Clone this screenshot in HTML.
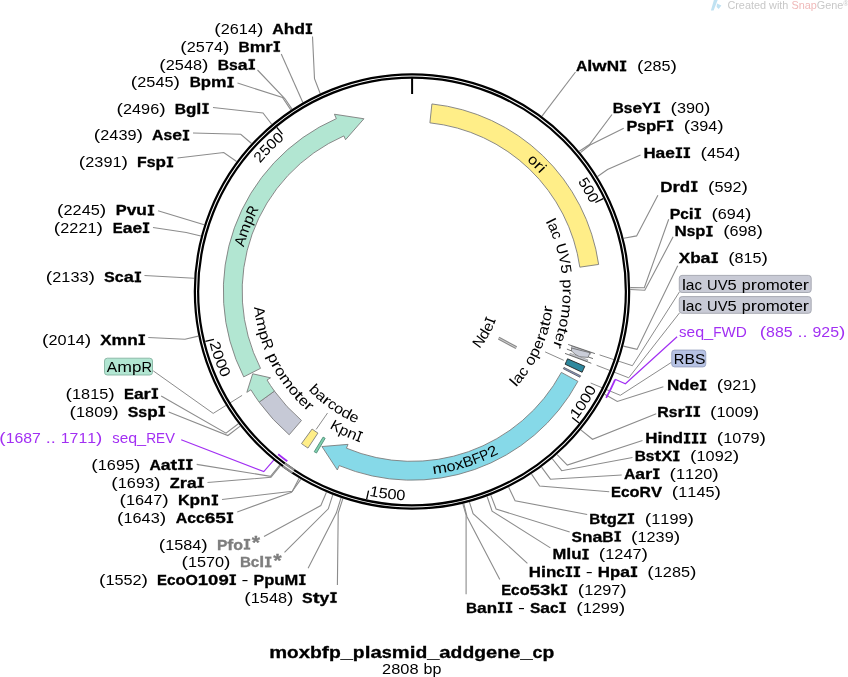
<!DOCTYPE html>
<html><head><meta charset="utf-8"><title>moxbfp_plasmid_addgene_cp</title>
<style>html,body{margin:0;padding:0;background:#fff;}body{width:848px;height:677px;overflow:hidden;}svg{display:block;will-change:transform;font-family:"Liberation Sans", sans-serif;font-size:14.7px;}</style>
</head><body>
<svg width="848" height="677" viewBox="0 0 848 677">
<rect width="848" height="677" fill="#fff"/>
<polyline points="312.5,36.5 314.5,78.75 320.19,93.45" fill="none" stroke="#8c8c8c" stroke-width="1.1"/>
<polyline points="281.25,54 302.85,102.45" fill="none" stroke="#8c8c8c" stroke-width="1.1"/>
<polyline points="257.5,70 285,98.75 292.04,109.11" fill="none" stroke="#8c8c8c" stroke-width="1.1"/>
<polyline points="237.5,83 282.5,97.5 290.82,109.92" fill="none" stroke="#8c8c8c" stroke-width="1.1"/>
<polyline points="213,107.5 263,113 271.68,124.27" fill="none" stroke="#8c8c8c" stroke-width="1.1"/>
<polyline points="193,133 240.75,134.25 251.55,143.48" fill="none" stroke="#8c8c8c" stroke-width="1.1"/>
<polyline points="177.5,158 223.75,152.5 236.61,161.53" fill="none" stroke="#8c8c8c" stroke-width="1.1"/>
<polyline points="158,210.75 204.17,224.69" fill="none" stroke="#8c8c8c" stroke-width="1.1"/>
<polyline points="153,227.5 186.25,232.5 200.89,235.94" fill="none" stroke="#8c8c8c" stroke-width="1.1"/>
<polyline points="144.5,275.5 194.1,278.32" fill="none" stroke="#8c8c8c" stroke-width="1.1"/>
<polyline points="148.25,337.5 185,339.25 198.31,336.12" fill="none" stroke="#8c8c8c" stroke-width="1.1"/>
<polyline points="161.2,395.9 226,433.2 238.37,423.81" fill="none" stroke="#8c8c8c" stroke-width="1.1"/>
<polyline points="168.7,412 227.9,435.5 240.16,426.13" fill="none" stroke="#8c8c8c" stroke-width="1.1"/>
<polyline points="196.7,464.4 270.5,476.3 279.69,465.13" fill="none" stroke="#8c8c8c" stroke-width="1.1"/>
<polyline points="207.5,482.5 271,477.3 280.47,465.72" fill="none" stroke="#8c8c8c" stroke-width="1.1"/>
<polyline points="222,499.5 292.4,491.2 299.07,478.32" fill="none" stroke="#8c8c8c" stroke-width="1.1"/>
<polyline points="237.2,512 291.5,492.3 300.74,479.32" fill="none" stroke="#8c8c8c" stroke-width="1.1"/>
<polyline points="264,536.6 320.8,505.6 326.43,492.33" fill="none" stroke="#8c8c8c" stroke-width="1.1"/>
<polyline points="284.5,552.3 328.3,508.8 332.77,494.91" fill="none" stroke="#8c8c8c" stroke-width="1.1"/>
<polyline points="308.1,568.3 336.3,513.1 341.02,497.94" fill="none" stroke="#8c8c8c" stroke-width="1.1"/>
<polyline points="337.4,585 338.2,513.1 342.87,498.57" fill="none" stroke="#8c8c8c" stroke-width="1.1"/>
<polyline points="575.5,72 541.97,116.11" fill="none" stroke="#8c8c8c" stroke-width="1.1"/>
<polyline points="612,114.5 589.5,144.5 579.23,151.18" fill="none" stroke="#8c8c8c" stroke-width="1.1"/>
<polyline points="623.75,128.25 590,145 580.48,152.68" fill="none" stroke="#8c8c8c" stroke-width="1.1"/>
<polyline points="640.5,155 607.5,169.5 597.54,176.48" fill="none" stroke="#8c8c8c" stroke-width="1.1"/>
<polyline points="657.9,195.3 636.6,235.9 623.72,238.31" fill="none" stroke="#8c8c8c" stroke-width="1.1"/>
<polyline points="668.7,219.2 644.3,287.8 630.27,287.59" fill="none" stroke="#8c8c8c" stroke-width="1.1"/>
<polyline points="673.1,236.8 644.8,290.3 630.29,289.55" fill="none" stroke="#8c8c8c" stroke-width="1.1"/>
<polyline points="677.7,265.7 637,349.4 623.36,346.11" fill="none" stroke="#8c8c8c" stroke-width="1.1"/>
<polyline points="663.4,386.7 617.3,401.5 604.61,394.24" fill="none" stroke="#8c8c8c" stroke-width="1.1"/>
<polyline points="656.25,413.75 592.5,439.25 580.79,429.94" fill="none" stroke="#8c8c8c" stroke-width="1.1"/>
<polyline points="642.5,440.5 567.3,465.1 557.12,454.58" fill="none" stroke="#8c8c8c" stroke-width="1.1"/>
<polyline points="632.5,457.5 561.7,470.7 552.32,458.73" fill="none" stroke="#8c8c8c" stroke-width="1.1"/>
<polyline points="621.75,475 550.4,479.2 541.57,467.19" fill="none" stroke="#8c8c8c" stroke-width="1.1"/>
<polyline points="609.25,491.75 539.6,486 531.55,474.15" fill="none" stroke="#8c8c8c" stroke-width="1.1"/>
<polyline points="587.2,514.5 515.1,500.7 508.66,487.23" fill="none" stroke="#8c8c8c" stroke-width="1.1"/>
<polyline points="569.7,532 496.1,509 490.78,495.09" fill="none" stroke="#8c8c8c" stroke-width="1.1"/>
<polyline points="550.4,547.9 492.1,511.1 487.12,496.47" fill="none" stroke="#8c8c8c" stroke-width="1.1"/>
<polyline points="527.4,563.3 473.1,513.6 469.44,502.11" fill="none" stroke="#8c8c8c" stroke-width="1.1"/>
<polyline points="499.8,579.5 467,516.7 463.77,503.57" fill="none" stroke="#8c8c8c" stroke-width="1.1"/>
<polyline points="466.1,594.2 466.1,515.1 462.82,503.8" fill="none" stroke="#8c8c8c" stroke-width="1.1"/>
<polyline points="153.2,370.8 213.2,413.4 242.1,395.4" fill="none" stroke="#8c8c8c" stroke-width="1.0"/>
<polyline points="679.5,291.8 632.4,365.7 599.6,354.9" fill="none" stroke="#8c8c8c" stroke-width="1.0"/>
<polyline points="679.5,312.9 628.7,377.8 596.6,365.3" fill="none" stroke="#8c8c8c" stroke-width="1.0"/>
<polyline points="671.5,362.3 620.3,395.3 590.7,383" fill="none" stroke="#8c8c8c" stroke-width="1.0"/>
<polyline points="677.1,336.8 625.4,383.7 615.1,379.3" fill="none" stroke="#a22ff3" stroke-width="1.2"/>
<polyline points="181.2,439.8 263.8,471.6 277.2,456.2" fill="none" stroke="#a22ff3" stroke-width="1.2"/>
<circle cx="412" cy="291.5" r="215.5" fill="none" stroke="#000" stroke-width="5.5"/>
<path d="M293.37,471.41 A215.5,215.5 0 0 1 283.82,464.73" fill="none" stroke="#8c8c8c" stroke-width="5.5"/>
<circle cx="412" cy="291.5" r="215.5" fill="none" stroke="#fff" stroke-width="1.05"/>
<path d="M615.1,379.65 A221.4,221.4 0 0 1 606.17,397.88" fill="none" stroke="#a22ff3" stroke-width="1.8"/>
<path d="M287.32,461.35 A210.7,210.7 0 0 1 278.2,454.26" fill="none" stroke="#a22ff3" stroke-width="1.8"/>
<polyline points="412.1,77.5 412.1,94" fill="none" stroke="#000" stroke-width="2.0"/>
<polyline points="603.25,198.64 595.33,202.49" fill="none" stroke="#000" stroke-width="1.3"/>
<polyline points="579.06,422.99 572.15,417.55" fill="none" stroke="#000" stroke-width="1.3"/>
<polyline points="366.68,499.21 368.56,490.62" fill="none" stroke="#000" stroke-width="1.3"/>
<polyline points="205.35,341.45 213.91,339.39" fill="none" stroke="#000" stroke-width="1.3"/>
<polyline points="276.81,127.42 282.4,134.21" fill="none" stroke="#000" stroke-width="1.3"/>
<path d="M431.91,103.95 A188.6,188.6 0 0 1 598.65,264.44 L579.84,267.16 A169.6,169.6 0 0 0 429.9,122.85 Z" fill="#ffee88" stroke="#7d7d7d" stroke-width="0.9" stroke-linejoin="miter"/>
<path d="M289.2,434.77 A188.7,188.7 0 0 1 259.15,402.15 L274.41,391.1 A169.85,169.85 0 0 0 301.47,420.46 Z" fill="#c6c9d6" stroke="#7d7d7d" stroke-width="0.9" stroke-linejoin="miter"/>
<path d="M259.15,402.15 A188.7,188.7 0 0 1 250.93,389.81 L246.84,392.32 L252.7,373.79 L270.57,377.83 L267.02,379.99 A169.85,169.85 0 0 0 274.41,391.1 Z" fill="#b2e6d2" stroke="#7d7d7d" stroke-width="0.9" stroke-linejoin="miter"/>
<path d="M243.72,376.87 A188.7,188.7 0 0 1 336.33,118.64 L334.41,114.24 L363.93,118.76 L345.56,139.71 L343.89,135.9 A169.85,169.85 0 0 0 260.53,368.35 Z" fill="#b2e6d2" stroke="#7d7d7d" stroke-width="0.9" stroke-linejoin="miter"/>
<path d="M577.93,381.37 A188.7,188.7 0 0 1 339.18,465.58 L337.33,470.01 L321.94,446.54 L348.06,444.36 L346.45,448.19 A169.85,169.85 0 0 0 561.35,372.39 Z" fill="#86d9e8" stroke="#7d7d7d" stroke-width="0.9" stroke-linejoin="miter"/>
<path d="M584.81,366.28 A188.3,188.3 0 0 1 582.1,372.27 L565.12,364.2 A169.5,169.5 0 0 0 567.56,358.82 Z" fill="#2e889e" stroke="#222" stroke-width="0.9" stroke-linejoin="miter"/>
<path d="M580.62,375.76 A188.5,188.5 0 0 1 579.88,377.22 L563.31,368.77 A169.9,169.9 0 0 0 563.98,367.44 Z" fill="#8e9bc8" stroke="#444" stroke-width="0.7" stroke-linejoin="miter"/>
<path d="M307.96,448.09 A188,188 0 0 1 301.5,443.6 L312.08,429.03 A170,170 0 0 0 317.92,433.1 Z" fill="#ffee88" stroke="#7d7d7d" stroke-width="0.9" stroke-linejoin="miter"/>
<path d="M316.45,453.06 A187.7,187.7 0 0 1 314.21,451.71 L323.12,437.12 A170.6,170.6 0 0 0 325.16,438.34 Z" fill="#7fcfae" stroke="#4e8f78" stroke-width="0.9" stroke-linejoin="miter"/>
<polygon points="571.73,346.21 590.99,352.78 590.51,354.2 571.25,347.63" fill="#d6d8e1" stroke="#6a6a6a" stroke-width="0.5"/>
<polygon points="571.5,348.1 590,352.7 588.1,357.4 579.4,356.8 574.7,354 571.5,350.8" fill="#cacdd8" stroke="#5a5a5a" stroke-width="0.7"/>
<polygon points="569.65,354.62 587.27,361.25 587.8,359.84 570.18,353.21" fill="#d6d8e1" stroke="#6a6a6a" stroke-width="0.5"/>
<polyline points="568.15,344.46 594.9,353.58" fill="none" stroke="#4a4a4a" stroke-width="0.8"/>
<polyline points="566.9,349.1 571.8,351" fill="none" stroke="#4a4a4a" stroke-width="0.8"/>
<polyline points="588.3,357 593,358.6" fill="none" stroke="#4a4a4a" stroke-width="0.8"/>
<polyline points="565,353.4 591.3,363.3" fill="none" stroke="#4a4a4a" stroke-width="0.8"/>
<polyline points="545.14,351.9 563.72,360.32" fill="none" stroke="#8c8c8c" stroke-width="1.0"/>
<polyline points="327.53,413.03 316.12,429.45" fill="none" stroke="#8c8c8c" stroke-width="1.0"/>
<polyline points="498.64,338.15 516.34,347.68" fill="none" stroke="#8a8a8a" stroke-width="3.0"/>
<polyline points="498.29,337.96 516.78,347.92" fill="none" stroke="#d8d8d8" stroke-width="0.9"/>
<text transform="translate(529.91,163.55) rotate(42.66)" text-anchor="middle" textLength="8.88" lengthAdjust="spacingAndGlyphs">o</text>
<text transform="translate(535.36,168.79) rotate(45.15)" text-anchor="middle" textLength="6.25" lengthAdjust="spacingAndGlyphs">r</text>
<text transform="translate(538.92,172.48) rotate(46.84)" text-anchor="middle" textLength="4.01" lengthAdjust="spacingAndGlyphs">i</text>
<text transform="translate(244.96,242.77) rotate(286.26)" text-anchor="middle" textLength="9.5" lengthAdjust="spacingAndGlyphs">A</text>
<text transform="translate(248.55,231.84) rotate(290.05)" text-anchor="middle" textLength="13.51" lengthAdjust="spacingAndGlyphs">m</text>
<text transform="translate(252.67,221.56) rotate(293.7)" text-anchor="middle" textLength="8.65" lengthAdjust="spacingAndGlyphs">p</text>
<text transform="translate(256.57,213.29) rotate(296.71)" text-anchor="middle" textLength="9.65" lengthAdjust="spacingAndGlyphs">R</text>
<text transform="translate(440.27,473.11) rotate(351.15)" text-anchor="middle" textLength="14.43" lengthAdjust="spacingAndGlyphs">m</text>
<text transform="translate(451.79,470.94) rotate(347.5)" text-anchor="middle" textLength="9" lengthAdjust="spacingAndGlyphs">o</text>
<text transform="translate(460.42,468.81) rotate(344.73)" text-anchor="middle" textLength="8.78" lengthAdjust="spacingAndGlyphs">x</text>
<text transform="translate(469.49,466.08) rotate(341.77)" text-anchor="middle" textLength="10.17" lengthAdjust="spacingAndGlyphs">B</text>
<text transform="translate(478.29,462.93) rotate(338.86)" text-anchor="middle" textLength="8.53" lengthAdjust="spacingAndGlyphs">F</text>
<text transform="translate(486.36,459.58) rotate(336.13)" text-anchor="middle" textLength="8.94" lengthAdjust="spacingAndGlyphs">P</text>
<text transform="translate(494.67,455.66) rotate(333.27)" text-anchor="middle" textLength="9.43" lengthAdjust="spacingAndGlyphs">2</text>
<text transform="translate(546.44,223.18) rotate(63.06)" text-anchor="middle" textLength="4.01" lengthAdjust="spacingAndGlyphs">l</text>
<text transform="translate(549.22,228.96) rotate(65.5)" text-anchor="middle" textLength="8.8" lengthAdjust="spacingAndGlyphs">a</text>
<text transform="translate(552.42,236.52) rotate(68.62)" text-anchor="middle" textLength="7.63" lengthAdjust="spacingAndGlyphs">c</text>
<text transform="translate(557,250.09) rotate(74.06)" text-anchor="middle" textLength="10.72" lengthAdjust="spacingAndGlyphs">U</text>
<text transform="translate(559.51,260.15) rotate(78)" text-anchor="middle" textLength="10.02" lengthAdjust="spacingAndGlyphs">V</text>
<text transform="translate(561.21,269.67) rotate(81.68)" text-anchor="middle" textLength="9.31" lengthAdjust="spacingAndGlyphs">5</text>
<text transform="translate(562.61,283.97) rotate(87.14)" text-anchor="middle" textLength="9.12" lengthAdjust="spacingAndGlyphs">p</text>
<text transform="translate(562.8,291.65) rotate(90.06)" text-anchor="middle" textLength="6.25" lengthAdjust="spacingAndGlyphs">r</text>
<text transform="translate(562.6,299.22) rotate(92.93)" text-anchor="middle" textLength="8.89" lengthAdjust="spacingAndGlyphs">o</text>
<text transform="translate(561.57,310.74) rotate(97.33)" text-anchor="middle" textLength="14.25" lengthAdjust="spacingAndGlyphs">m</text>
<text transform="translate(559.65,322.15) rotate(101.73)" text-anchor="middle" textLength="8.89" lengthAdjust="spacingAndGlyphs">o</text>
<text transform="translate(557.99,329.29) rotate(104.51)" text-anchor="middle" textLength="5.77" lengthAdjust="spacingAndGlyphs">t</text>
<text transform="translate(556,336.26) rotate(107.27)" text-anchor="middle" textLength="8.73" lengthAdjust="spacingAndGlyphs">e</text>
<text transform="translate(553.6,343.35) rotate(110.11)" text-anchor="middle" textLength="6.25" lengthAdjust="spacingAndGlyphs">r</text>
<text transform="translate(517.38,385.94) rotate(311.87)" text-anchor="middle" textLength="4.12" lengthAdjust="spacingAndGlyphs">l</text>
<text transform="translate(521.65,380.94) rotate(309.2)" text-anchor="middle" textLength="9.03" lengthAdjust="spacingAndGlyphs">a</text>
<text transform="translate(526.78,374.25) rotate(305.79)" text-anchor="middle" textLength="7.83" lengthAdjust="spacingAndGlyphs">c</text>
<text transform="translate(534.28,362.71) rotate(300.21)" text-anchor="middle" textLength="9.12" lengthAdjust="spacingAndGlyphs">o</text>
<text transform="translate(538.67,354.57) rotate(296.47)" text-anchor="middle" textLength="9.36" lengthAdjust="spacingAndGlyphs">p</text>
<text transform="translate(542.48,346.25) rotate(292.76)" text-anchor="middle" textLength="8.96" lengthAdjust="spacingAndGlyphs">e</text>
<text transform="translate(545.26,339.08) rotate(289.65)" text-anchor="middle" textLength="6.42" lengthAdjust="spacingAndGlyphs">r</text>
<text transform="translate(547.66,331.74) rotate(286.52)" text-anchor="middle" textLength="9.03" lengthAdjust="spacingAndGlyphs">a</text>
<text transform="translate(549.59,324.51) rotate(283.49)" text-anchor="middle" textLength="5.92" lengthAdjust="spacingAndGlyphs">t</text>
<text transform="translate(551.15,317.16) rotate(280.45)" text-anchor="middle" textLength="9.12" lengthAdjust="spacingAndGlyphs">o</text>
<text transform="translate(552.35,309.48) rotate(277.3)" text-anchor="middle" textLength="6.42" lengthAdjust="spacingAndGlyphs">r</text>
<text transform="translate(482.66,344.79) rotate(307.02)" text-anchor="middle" textLength="10.74" lengthAdjust="spacingAndGlyphs">N</text>
<text transform="translate(488.14,336.62) rotate(300.65)" text-anchor="middle" textLength="8.95" lengthAdjust="spacingAndGlyphs">d</text>
<text transform="translate(492.22,328.88) rotate(294.98)" text-anchor="middle" textLength="8.56" lengthAdjust="spacingAndGlyphs">e</text>
<path transform="translate(495.03,322.14) rotate(290.26)" d="M-2.25,0H2.25V-1.15H0.68V-9.3H2.25V-10.45H-2.25V-9.3H-0.68V-1.15H-2.25Z"/>
<text transform="translate(254.78,312.39) rotate(442.43)" text-anchor="middle" textLength="10.34" lengthAdjust="spacingAndGlyphs">A</text>
<text transform="translate(256.92,324.73) rotate(437.91)" text-anchor="middle" textLength="14.71" lengthAdjust="spacingAndGlyphs">m</text>
<text transform="translate(259.89,336.42) rotate(433.55)" text-anchor="middle" textLength="9.42" lengthAdjust="spacingAndGlyphs">p</text>
<text transform="translate(263.02,345.88) rotate(429.95)" text-anchor="middle" textLength="10.51" lengthAdjust="spacingAndGlyphs">R</text>
<text transform="translate(268.94,359.97) rotate(424.42)" text-anchor="middle" textLength="9.42" lengthAdjust="spacingAndGlyphs">p</text>
<text transform="translate(272.55,367.04) rotate(421.55)" text-anchor="middle" textLength="6.46" lengthAdjust="spacingAndGlyphs">r</text>
<text transform="translate(276.44,373.82) rotate(418.73)" text-anchor="middle" textLength="9.18" lengthAdjust="spacingAndGlyphs">o</text>
<text transform="translate(283.02,383.79) rotate(414.41)" text-anchor="middle" textLength="14.71" lengthAdjust="spacingAndGlyphs">m</text>
<text transform="translate(290.33,393.24) rotate(410.1)" text-anchor="middle" textLength="9.18" lengthAdjust="spacingAndGlyphs">o</text>
<text transform="translate(295.32,398.92) rotate(407.36)" text-anchor="middle" textLength="5.96" lengthAdjust="spacingAndGlyphs">t</text>
<text transform="translate(300.52,404.31) rotate(404.66)" text-anchor="middle" textLength="9.01" lengthAdjust="spacingAndGlyphs">e</text>
<text transform="translate(306.15,409.61) rotate(401.87)" text-anchor="middle" textLength="6.46" lengthAdjust="spacingAndGlyphs">r</text>
<text transform="translate(311.48,393.21) rotate(404.66)" text-anchor="middle" textLength="9.18" lengthAdjust="spacingAndGlyphs">b</text>
<text transform="translate(318.09,399.34) rotate(401.05)" text-anchor="middle" textLength="8.85" lengthAdjust="spacingAndGlyphs">a</text>
<text transform="translate(323.93,404.16) rotate(398.01)" text-anchor="middle" textLength="6.29" lengthAdjust="spacingAndGlyphs">r</text>
<text transform="translate(329.54,408.33) rotate(395.22)" text-anchor="middle" textLength="7.68" lengthAdjust="spacingAndGlyphs">c</text>
<text transform="translate(336.46,412.92) rotate(391.89)" text-anchor="middle" textLength="8.94" lengthAdjust="spacingAndGlyphs">o</text>
<text transform="translate(344.3,417.46) rotate(388.26)" text-anchor="middle" textLength="9.18" lengthAdjust="spacingAndGlyphs">d</text>
<text transform="translate(352.34,421.46) rotate(384.66)" text-anchor="middle" textLength="8.78" lengthAdjust="spacingAndGlyphs">e</text>
<text transform="translate(333.7,430.46) rotate(389.4)" text-anchor="middle" textLength="10.01" lengthAdjust="spacingAndGlyphs">K</text>
<text transform="translate(342.11,434.87) rotate(385.99)" text-anchor="middle" textLength="9" lengthAdjust="spacingAndGlyphs">p</text>
<text transform="translate(350.38,438.62) rotate(382.73)" text-anchor="middle" textLength="9.15" lengthAdjust="spacingAndGlyphs">n</text>
<path transform="translate(357.47,441.39) rotate(379.99)" d="M-2.25,0H2.25V-1.15H0.68V-9.3H2.25V-10.45H-2.25V-9.3H-0.68V-1.15H-2.25Z"/>
<text transform="translate(579.91,185.08) rotate(57.63)" text-anchor="middle" textLength="8.56" lengthAdjust="spacingAndGlyphs">5</text>
<text transform="translate(584.34,192.4) rotate(60.1)" text-anchor="middle" textLength="8.56" lengthAdjust="spacingAndGlyphs">0</text>
<text transform="translate(588.44,199.91) rotate(62.57)" text-anchor="middle" textLength="8.56" lengthAdjust="spacingAndGlyphs">0</text>
<text transform="translate(262.79,160.13) rotate(311.36)" text-anchor="middle" textLength="8.76" lengthAdjust="spacingAndGlyphs">2</text>
<text transform="translate(268.72,153.68) rotate(313.89)" text-anchor="middle" textLength="8.76" lengthAdjust="spacingAndGlyphs">5</text>
<text transform="translate(274.94,147.5) rotate(316.41)" text-anchor="middle" textLength="8.76" lengthAdjust="spacingAndGlyphs">0</text>
<text transform="translate(281.41,141.61) rotate(318.94)" text-anchor="middle" textLength="8.76" lengthAdjust="spacingAndGlyphs">0</text>
<text transform="translate(579.74,415.85) rotate(306.55)" text-anchor="middle" textLength="9.11" lengthAdjust="spacingAndGlyphs">1</text>
<text transform="translate(585,408.41) rotate(304.05)" text-anchor="middle" textLength="9.11" lengthAdjust="spacingAndGlyphs">0</text>
<text transform="translate(589.94,400.75) rotate(301.55)" text-anchor="middle" textLength="9.11" lengthAdjust="spacingAndGlyphs">0</text>
<text transform="translate(594.53,392.89) rotate(299.05)" text-anchor="middle" textLength="9.11" lengthAdjust="spacingAndGlyphs">0</text>
<text transform="translate(373.41,496.7) rotate(370.65)" text-anchor="middle" textLength="9.11" lengthAdjust="spacingAndGlyphs">1</text>
<text transform="translate(382.4,498.19) rotate(368.15)" text-anchor="middle" textLength="9.11" lengthAdjust="spacingAndGlyphs">5</text>
<text transform="translate(391.44,499.29) rotate(365.65)" text-anchor="middle" textLength="9.11" lengthAdjust="spacingAndGlyphs">0</text>
<text transform="translate(400.53,499.98) rotate(363.15)" text-anchor="middle" textLength="9.11" lengthAdjust="spacingAndGlyphs">0</text>
<text transform="translate(210.87,347.56) rotate(434.42)" text-anchor="middle" textLength="9.29" lengthAdjust="spacingAndGlyphs">2</text>
<text transform="translate(213.56,356.46) rotate(431.88)" text-anchor="middle" textLength="9.29" lengthAdjust="spacingAndGlyphs">0</text>
<text transform="translate(216.65,365.22) rotate(429.32)" text-anchor="middle" textLength="9.29" lengthAdjust="spacingAndGlyphs">0</text>
<text transform="translate(220.12,373.84) rotate(426.77)" text-anchor="middle" textLength="9.29" lengthAdjust="spacingAndGlyphs">0</text>
<g><text x="214.3" y="34" textLength="6.46" lengthAdjust="spacingAndGlyphs">(</text><text x="220.76" y="34" textLength="9.05" lengthAdjust="spacingAndGlyphs">2</text><text x="229.8" y="34" textLength="9.05" lengthAdjust="spacingAndGlyphs">6</text><text x="238.85" y="34" textLength="9.05" lengthAdjust="spacingAndGlyphs">1</text><text x="247.9" y="34" textLength="9.05" lengthAdjust="spacingAndGlyphs">4</text><text x="256.94" y="34" textLength="6.46" lengthAdjust="spacingAndGlyphs">)</text></g>
<g font-weight="bold" stroke="#000" stroke-width="0.3"><text x="272.2" y="34" textLength="11.58" lengthAdjust="spacingAndGlyphs">A</text><text x="283.78" y="34" textLength="10.63" lengthAdjust="spacingAndGlyphs">h</text><text x="294.41" y="34" textLength="10.44" lengthAdjust="spacingAndGlyphs">d</text><path transform="translate(0,34)" d="M305.82,0H312.02V-1.65H310.17V-8.8H312.02V-10.45H305.82V-8.8H307.67V-1.65H305.82Z"/></g>
<g><text x="180.35" y="51.8" textLength="6.46" lengthAdjust="spacingAndGlyphs">(</text><text x="186.81" y="51.8" textLength="9.05" lengthAdjust="spacingAndGlyphs">2</text><text x="195.85" y="51.8" textLength="9.05" lengthAdjust="spacingAndGlyphs">5</text><text x="204.9" y="51.8" textLength="9.05" lengthAdjust="spacingAndGlyphs">7</text><text x="213.95" y="51.8" textLength="9.05" lengthAdjust="spacingAndGlyphs">4</text><text x="222.99" y="51.8" textLength="6.46" lengthAdjust="spacingAndGlyphs">)</text></g>
<g font-weight="bold" stroke="#000" stroke-width="0.3"><text x="238.5" y="51.8" textLength="11.26" lengthAdjust="spacingAndGlyphs">B</text><text x="249.76" y="51.8" textLength="15.63" lengthAdjust="spacingAndGlyphs">m</text><text x="265.39" y="51.8" textLength="7.34" lengthAdjust="spacingAndGlyphs">r</text><path transform="translate(0,51.8)" d="M273.67,0H279.87V-1.65H278.02V-8.8H279.87V-10.45H273.67V-8.8H275.52V-1.65H273.67Z"/></g>
<g><text x="159.35" y="69.6" textLength="6.46" lengthAdjust="spacingAndGlyphs">(</text><text x="165.81" y="69.6" textLength="9.05" lengthAdjust="spacingAndGlyphs">2</text><text x="174.85" y="69.6" textLength="9.05" lengthAdjust="spacingAndGlyphs">5</text><text x="183.9" y="69.6" textLength="9.05" lengthAdjust="spacingAndGlyphs">4</text><text x="192.95" y="69.6" textLength="9.05" lengthAdjust="spacingAndGlyphs">8</text><text x="201.99" y="69.6" textLength="6.46" lengthAdjust="spacingAndGlyphs">)</text></g>
<g font-weight="bold" stroke="#000" stroke-width="0.3"><text x="217.75" y="69.6" textLength="11.29" lengthAdjust="spacingAndGlyphs">B</text><text x="229.04" y="69.6" textLength="8.78" lengthAdjust="spacingAndGlyphs">s</text><text x="237.82" y="69.6" textLength="9.89" lengthAdjust="spacingAndGlyphs">a</text><path transform="translate(0,69.6)" d="M248.66,0H254.86V-1.65H253.01V-8.8H254.86V-10.45H248.66V-8.8H250.51V-1.65H248.66Z"/></g>
<g><text x="130.85" y="87.4" textLength="6.46" lengthAdjust="spacingAndGlyphs">(</text><text x="137.31" y="87.4" textLength="9.05" lengthAdjust="spacingAndGlyphs">2</text><text x="146.35" y="87.4" textLength="9.05" lengthAdjust="spacingAndGlyphs">5</text><text x="155.4" y="87.4" textLength="9.05" lengthAdjust="spacingAndGlyphs">4</text><text x="164.45" y="87.4" textLength="9.05" lengthAdjust="spacingAndGlyphs">5</text><text x="173.49" y="87.4" textLength="6.46" lengthAdjust="spacingAndGlyphs">)</text></g>
<g font-weight="bold" stroke="#000" stroke-width="0.3"><text x="189.75" y="87.4" textLength="11.14" lengthAdjust="spacingAndGlyphs">B</text><text x="200.89" y="87.4" textLength="10.22" lengthAdjust="spacingAndGlyphs">p</text><text x="211.1" y="87.4" textLength="15.46" lengthAdjust="spacingAndGlyphs">m</text><path transform="translate(0,87.4)" d="M227.46,0H233.66V-1.65H231.81V-8.8H233.66V-10.45H227.46V-8.8H229.31V-1.65H227.46Z"/></g>
<g><text x="116.55" y="113.65" textLength="6.46" lengthAdjust="spacingAndGlyphs">(</text><text x="123.01" y="113.65" textLength="9.05" lengthAdjust="spacingAndGlyphs">2</text><text x="132.05" y="113.65" textLength="9.05" lengthAdjust="spacingAndGlyphs">4</text><text x="141.1" y="113.65" textLength="9.05" lengthAdjust="spacingAndGlyphs">9</text><text x="150.15" y="113.65" textLength="9.05" lengthAdjust="spacingAndGlyphs">6</text><text x="159.19" y="113.65" textLength="6.46" lengthAdjust="spacingAndGlyphs">)</text></g>
<g font-weight="bold" stroke="#000" stroke-width="0.3"><text x="174.75" y="113.65" textLength="11.29" lengthAdjust="spacingAndGlyphs">B</text><text x="186.04" y="113.65" textLength="10.36" lengthAdjust="spacingAndGlyphs">g</text><text x="196.39" y="113.65" textLength="5.07" lengthAdjust="spacingAndGlyphs">l</text><path transform="translate(0,113.65)" d="M202.41,0H208.61V-1.65H206.76V-8.8H208.61V-10.45H202.41V-8.8H204.26V-1.65H202.41Z"/></g>
<g><text x="93.85" y="140.4" textLength="6.46" lengthAdjust="spacingAndGlyphs">(</text><text x="100.31" y="140.4" textLength="9.05" lengthAdjust="spacingAndGlyphs">2</text><text x="109.35" y="140.4" textLength="9.05" lengthAdjust="spacingAndGlyphs">4</text><text x="118.4" y="140.4" textLength="9.05" lengthAdjust="spacingAndGlyphs">3</text><text x="127.45" y="140.4" textLength="9.05" lengthAdjust="spacingAndGlyphs">9</text><text x="136.49" y="140.4" textLength="6.46" lengthAdjust="spacingAndGlyphs">)</text></g>
<g font-weight="bold" stroke="#000" stroke-width="0.3"><text x="152" y="140.4" textLength="11.45" lengthAdjust="spacingAndGlyphs">A</text><text x="163.45" y="140.4" textLength="8.75" lengthAdjust="spacingAndGlyphs">s</text><text x="172.2" y="140.4" textLength="9.8" lengthAdjust="spacingAndGlyphs">e</text><path transform="translate(0,140.4)" d="M182.92,0H189.12V-1.65H187.27V-8.8H189.12V-10.45H182.92V-8.8H184.77V-1.65H182.92Z"/></g>
<g><text x="78.85" y="167.15" textLength="6.46" lengthAdjust="spacingAndGlyphs">(</text><text x="85.31" y="167.15" textLength="9.05" lengthAdjust="spacingAndGlyphs">2</text><text x="94.35" y="167.15" textLength="9.05" lengthAdjust="spacingAndGlyphs">3</text><text x="103.4" y="167.15" textLength="9.05" lengthAdjust="spacingAndGlyphs">9</text><text x="112.45" y="167.15" textLength="9.05" lengthAdjust="spacingAndGlyphs">1</text><text x="121.49" y="167.15" textLength="6.46" lengthAdjust="spacingAndGlyphs">)</text></g>
<g font-weight="bold" stroke="#000" stroke-width="0.3"><text x="137" y="167.15" textLength="9.68" lengthAdjust="spacingAndGlyphs">F</text><text x="146.68" y="167.15" textLength="8.83" lengthAdjust="spacingAndGlyphs">s</text><text x="155.51" y="167.15" textLength="10.41" lengthAdjust="spacingAndGlyphs">p</text><path transform="translate(0,167.15)" d="M166.88,0H173.08V-1.65H171.23V-8.8H173.08V-10.45H166.88V-8.8H168.73V-1.65H166.88Z"/></g>
<g><text x="57.1" y="215.4" textLength="6.46" lengthAdjust="spacingAndGlyphs">(</text><text x="63.56" y="215.4" textLength="9.05" lengthAdjust="spacingAndGlyphs">2</text><text x="72.6" y="215.4" textLength="9.05" lengthAdjust="spacingAndGlyphs">2</text><text x="81.65" y="215.4" textLength="9.05" lengthAdjust="spacingAndGlyphs">4</text><text x="90.7" y="215.4" textLength="9.05" lengthAdjust="spacingAndGlyphs">5</text><text x="99.74" y="215.4" textLength="6.46" lengthAdjust="spacingAndGlyphs">)</text></g>
<g font-weight="bold" stroke="#000" stroke-width="0.3"><text x="115.75" y="215.4" textLength="10.91" lengthAdjust="spacingAndGlyphs">P</text><text x="126.66" y="215.4" textLength="9.67" lengthAdjust="spacingAndGlyphs">v</text><text x="136.33" y="215.4" textLength="10.6" lengthAdjust="spacingAndGlyphs">u</text><path transform="translate(0,215.4)" d="M147.89,0H154.09V-1.65H152.24V-8.8H154.09V-10.45H147.89V-8.8H149.74V-1.65H147.89Z"/></g>
<g><text x="53.85" y="233" textLength="6.46" lengthAdjust="spacingAndGlyphs">(</text><text x="60.31" y="233" textLength="9.05" lengthAdjust="spacingAndGlyphs">2</text><text x="69.35" y="233" textLength="9.05" lengthAdjust="spacingAndGlyphs">2</text><text x="78.4" y="233" textLength="9.05" lengthAdjust="spacingAndGlyphs">2</text><text x="87.45" y="233" textLength="9.05" lengthAdjust="spacingAndGlyphs">1</text><text x="96.49" y="233" textLength="6.46" lengthAdjust="spacingAndGlyphs">)</text></g>
<g font-weight="bold" stroke="#000" stroke-width="0.3"><text x="112.75" y="233" textLength="9.95" lengthAdjust="spacingAndGlyphs">E</text><text x="122.7" y="233" textLength="9.73" lengthAdjust="spacingAndGlyphs">a</text><text x="132.43" y="233" textLength="9.67" lengthAdjust="spacingAndGlyphs">e</text><path transform="translate(0,233)" d="M142.97,0H149.17V-1.65H147.32V-8.8H149.17V-10.45H142.97V-8.8H144.82V-1.65H142.97Z"/></g>
<g><text x="45.85" y="282.15" textLength="6.46" lengthAdjust="spacingAndGlyphs">(</text><text x="52.31" y="282.15" textLength="9.05" lengthAdjust="spacingAndGlyphs">2</text><text x="61.35" y="282.15" textLength="9.05" lengthAdjust="spacingAndGlyphs">1</text><text x="70.4" y="282.15" textLength="9.05" lengthAdjust="spacingAndGlyphs">3</text><text x="79.45" y="282.15" textLength="9.05" lengthAdjust="spacingAndGlyphs">3</text><text x="88.49" y="282.15" textLength="6.46" lengthAdjust="spacingAndGlyphs">)</text></g>
<g font-weight="bold" stroke="#000" stroke-width="0.3"><text x="104" y="282.15" textLength="10.75" lengthAdjust="spacingAndGlyphs">S</text><text x="114.75" y="282.15" textLength="8.91" lengthAdjust="spacingAndGlyphs">c</text><text x="123.66" y="282.15" textLength="10.12" lengthAdjust="spacingAndGlyphs">a</text><path transform="translate(0,282.15)" d="M134.81,0H141.01V-1.65H139.16V-8.8H141.01V-10.45H134.81V-8.8H136.66V-1.65H134.81Z"/></g>
<g><text x="42.1" y="344.9" textLength="6.46" lengthAdjust="spacingAndGlyphs">(</text><text x="48.56" y="344.9" textLength="9.05" lengthAdjust="spacingAndGlyphs">2</text><text x="57.6" y="344.9" textLength="9.05" lengthAdjust="spacingAndGlyphs">0</text><text x="66.65" y="344.9" textLength="9.05" lengthAdjust="spacingAndGlyphs">1</text><text x="75.7" y="344.9" textLength="9.05" lengthAdjust="spacingAndGlyphs">4</text><text x="84.74" y="344.9" textLength="6.46" lengthAdjust="spacingAndGlyphs">)</text></g>
<g font-weight="bold" stroke="#000" stroke-width="0.3"><text x="100.25" y="344.9" textLength="11.3" lengthAdjust="spacingAndGlyphs">X</text><text x="111.55" y="344.9" textLength="15.65" lengthAdjust="spacingAndGlyphs">m</text><text x="127.2" y="344.9" textLength="10.53" lengthAdjust="spacingAndGlyphs">n</text><path transform="translate(0,344.9)" d="M138.66,0H144.86V-1.65H143.01V-8.8H144.86V-10.45H138.66V-8.8H140.51V-1.65H138.66Z"/></g>
<g><text x="65.6" y="398.65" textLength="6.46" lengthAdjust="spacingAndGlyphs">(</text><text x="72.06" y="398.65" textLength="9.05" lengthAdjust="spacingAndGlyphs">1</text><text x="81.1" y="398.65" textLength="9.05" lengthAdjust="spacingAndGlyphs">8</text><text x="90.15" y="398.65" textLength="9.05" lengthAdjust="spacingAndGlyphs">1</text><text x="99.2" y="398.65" textLength="9.05" lengthAdjust="spacingAndGlyphs">5</text><text x="108.24" y="398.65" textLength="6.46" lengthAdjust="spacingAndGlyphs">)</text></g>
<g font-weight="bold" stroke="#000" stroke-width="0.3"><text x="124" y="398.65" textLength="9.93" lengthAdjust="spacingAndGlyphs">E</text><text x="133.93" y="398.65" textLength="9.71" lengthAdjust="spacingAndGlyphs">a</text><text x="143.64" y="398.65" textLength="7.22" lengthAdjust="spacingAndGlyphs">r</text><path transform="translate(0,398.65)" d="M151.73,0H157.93V-1.65H156.08V-8.8H157.93V-10.45H151.73V-8.8H153.58V-1.65H151.73Z"/></g>
<g><text x="69.6" y="416.5" textLength="6.46" lengthAdjust="spacingAndGlyphs">(</text><text x="76.06" y="416.5" textLength="9.05" lengthAdjust="spacingAndGlyphs">1</text><text x="85.1" y="416.5" textLength="9.05" lengthAdjust="spacingAndGlyphs">8</text><text x="94.15" y="416.5" textLength="9.05" lengthAdjust="spacingAndGlyphs">0</text><text x="103.2" y="416.5" textLength="9.05" lengthAdjust="spacingAndGlyphs">9</text><text x="112.24" y="416.5" textLength="6.46" lengthAdjust="spacingAndGlyphs">)</text></g>
<g font-weight="bold" stroke="#000" stroke-width="0.3"><text x="127.75" y="416.5" textLength="10.6" lengthAdjust="spacingAndGlyphs">S</text><text x="138.35" y="416.5" textLength="8.86" lengthAdjust="spacingAndGlyphs">s</text><text x="147.21" y="416.5" textLength="10.44" lengthAdjust="spacingAndGlyphs">p</text><path transform="translate(0,416.5)" d="M158.62,0H164.82V-1.65H162.97V-8.8H164.82V-10.45H158.62V-8.8H160.47V-1.65H158.62Z"/></g>
<g><text x="91.35" y="469.7" textLength="6.46" lengthAdjust="spacingAndGlyphs">(</text><text x="97.81" y="469.7" textLength="9.05" lengthAdjust="spacingAndGlyphs">1</text><text x="106.85" y="469.7" textLength="9.05" lengthAdjust="spacingAndGlyphs">6</text><text x="115.9" y="469.7" textLength="9.05" lengthAdjust="spacingAndGlyphs">9</text><text x="124.95" y="469.7" textLength="9.05" lengthAdjust="spacingAndGlyphs">5</text><text x="133.99" y="469.7" textLength="6.46" lengthAdjust="spacingAndGlyphs">)</text></g>
<g font-weight="bold" stroke="#000" stroke-width="0.3"><text x="149.5" y="469.7" textLength="11.36" lengthAdjust="spacingAndGlyphs">A</text><text x="160.86" y="469.7" textLength="9.78" lengthAdjust="spacingAndGlyphs">a</text><text x="170.64" y="469.7" textLength="6.68" lengthAdjust="spacingAndGlyphs">t</text><path transform="translate(0,469.7)" d="M178.21,0H184.41V-1.65H182.56V-8.8H184.41V-10.45H178.21V-8.8H180.06V-1.65H178.21Z"/><path transform="translate(0,469.7)" d="M186.2,0H192.4V-1.65H190.55V-8.8H192.4V-10.45H186.2V-8.8H188.05V-1.65H186.2Z"/></g>
<g><text x="111.35" y="487.6" textLength="6.46" lengthAdjust="spacingAndGlyphs">(</text><text x="117.81" y="487.6" textLength="9.05" lengthAdjust="spacingAndGlyphs">1</text><text x="126.85" y="487.6" textLength="9.05" lengthAdjust="spacingAndGlyphs">6</text><text x="135.9" y="487.6" textLength="9.05" lengthAdjust="spacingAndGlyphs">9</text><text x="144.95" y="487.6" textLength="9.05" lengthAdjust="spacingAndGlyphs">3</text><text x="153.99" y="487.6" textLength="6.46" lengthAdjust="spacingAndGlyphs">)</text></g>
<g font-weight="bold" stroke="#000" stroke-width="0.3"><text x="169.75" y="487.6" textLength="10.02" lengthAdjust="spacingAndGlyphs">Z</text><text x="179.77" y="487.6" textLength="7.2" lengthAdjust="spacingAndGlyphs">r</text><text x="186.97" y="487.6" textLength="9.67" lengthAdjust="spacingAndGlyphs">a</text><path transform="translate(0,487.6)" d="M197.5,0H203.7V-1.65H201.85V-8.8H203.7V-10.45H197.5V-8.8H199.35V-1.65H197.5Z"/></g>
<g><text x="119.55" y="505.3" textLength="6.46" lengthAdjust="spacingAndGlyphs">(</text><text x="126.01" y="505.3" textLength="9.05" lengthAdjust="spacingAndGlyphs">1</text><text x="135.05" y="505.3" textLength="9.05" lengthAdjust="spacingAndGlyphs">6</text><text x="144.1" y="505.3" textLength="9.05" lengthAdjust="spacingAndGlyphs">4</text><text x="153.15" y="505.3" textLength="9.05" lengthAdjust="spacingAndGlyphs">7</text><text x="162.19" y="505.3" textLength="6.46" lengthAdjust="spacingAndGlyphs">)</text></g>
<g font-weight="bold" stroke="#000" stroke-width="0.3"><text x="177.9" y="505.3" textLength="11.62" lengthAdjust="spacingAndGlyphs">K</text><text x="189.52" y="505.3" textLength="10.53" lengthAdjust="spacingAndGlyphs">p</text><text x="200.05" y="505.3" textLength="10.73" lengthAdjust="spacingAndGlyphs">n</text><path transform="translate(0,505.3)" d="M211.79,0H217.99V-1.65H216.14V-8.8H217.99V-10.45H211.79V-8.8H213.64V-1.65H211.79Z"/></g>
<g><text x="117.05" y="523" textLength="6.46" lengthAdjust="spacingAndGlyphs">(</text><text x="123.51" y="523" textLength="9.05" lengthAdjust="spacingAndGlyphs">1</text><text x="132.55" y="523" textLength="9.05" lengthAdjust="spacingAndGlyphs">6</text><text x="141.6" y="523" textLength="9.05" lengthAdjust="spacingAndGlyphs">4</text><text x="150.65" y="523" textLength="9.05" lengthAdjust="spacingAndGlyphs">3</text><text x="159.69" y="523" textLength="6.46" lengthAdjust="spacingAndGlyphs">)</text></g>
<g font-weight="bold" stroke="#000" stroke-width="0.3"><text x="175.8" y="523" textLength="11.52" lengthAdjust="spacingAndGlyphs">A</text><text x="187.32" y="523" textLength="8.73" lengthAdjust="spacingAndGlyphs">c</text><text x="196.05" y="523" textLength="8.73" lengthAdjust="spacingAndGlyphs">c</text><text x="204.78" y="523" textLength="10.56" lengthAdjust="spacingAndGlyphs">6</text><text x="215.34" y="523" textLength="10.56" lengthAdjust="spacingAndGlyphs">5</text><path transform="translate(0,523)" d="M226.85,0H233.05V-1.65H231.2V-8.8H233.05V-10.45H226.85V-8.8H228.7V-1.65H226.85Z"/></g>
<g><text x="158.75" y="549.5" textLength="6.46" lengthAdjust="spacingAndGlyphs">(</text><text x="165.21" y="549.5" textLength="9.05" lengthAdjust="spacingAndGlyphs">1</text><text x="174.25" y="549.5" textLength="9.05" lengthAdjust="spacingAndGlyphs">5</text><text x="183.3" y="549.5" textLength="9.05" lengthAdjust="spacingAndGlyphs">8</text><text x="192.35" y="549.5" textLength="9.05" lengthAdjust="spacingAndGlyphs">4</text><text x="201.39" y="549.5" textLength="6.46" lengthAdjust="spacingAndGlyphs">)</text></g>
<g font-weight="bold" stroke="#7e7e7e" stroke-width="0.3" fill="#7e7e7e"><text x="216.9" y="549.5" textLength="10.43" lengthAdjust="spacingAndGlyphs">P</text><text x="227.33" y="549.5" textLength="6.01" lengthAdjust="spacingAndGlyphs">f</text><text x="233.34" y="549.5" textLength="9.78" lengthAdjust="spacingAndGlyphs">o</text><path transform="translate(0,549.5)" d="M243.9,0H250.1V-1.65H248.25V-8.8H250.1V-10.45H243.9V-8.8H245.75V-1.65H243.9Z"/><text x="251.89" y="549.4" textLength="8.3" lengthAdjust="spacingAndGlyphs" font-size="19.11">*</text></g>
<g><text x="181.45" y="567.2" textLength="6.46" lengthAdjust="spacingAndGlyphs">(</text><text x="187.91" y="567.2" textLength="9.05" lengthAdjust="spacingAndGlyphs">1</text><text x="196.95" y="567.2" textLength="9.05" lengthAdjust="spacingAndGlyphs">5</text><text x="206" y="567.2" textLength="9.05" lengthAdjust="spacingAndGlyphs">7</text><text x="215.05" y="567.2" textLength="9.05" lengthAdjust="spacingAndGlyphs">0</text><text x="224.09" y="567.2" textLength="6.46" lengthAdjust="spacingAndGlyphs">)</text></g>
<g font-weight="bold" stroke="#7e7e7e" stroke-width="0.3" fill="#7e7e7e"><text x="239.9" y="567.2" textLength="10.98" lengthAdjust="spacingAndGlyphs">B</text><text x="250.88" y="567.2" textLength="8.47" lengthAdjust="spacingAndGlyphs">c</text><text x="259.36" y="567.2" textLength="4.93" lengthAdjust="spacingAndGlyphs">l</text><path transform="translate(0,567.2)" d="M265.12,0H271.32V-1.65H269.47V-8.8H271.32V-10.45H265.12V-8.8H266.97V-1.65H265.12Z"/><text x="273.18" y="567.1" textLength="8.4" lengthAdjust="spacingAndGlyphs" font-size="19.11">*</text></g>
<g><text x="98.95" y="584.9" textLength="6.46" lengthAdjust="spacingAndGlyphs">(</text><text x="105.41" y="584.9" textLength="9.05" lengthAdjust="spacingAndGlyphs">1</text><text x="114.45" y="584.9" textLength="9.05" lengthAdjust="spacingAndGlyphs">5</text><text x="123.5" y="584.9" textLength="9.05" lengthAdjust="spacingAndGlyphs">5</text><text x="132.55" y="584.9" textLength="9.05" lengthAdjust="spacingAndGlyphs">2</text><text x="141.59" y="584.9" textLength="6.46" lengthAdjust="spacingAndGlyphs">)</text></g>
<g font-weight="bold" stroke="#000" stroke-width="0.3"><text x="157.1" y="584.9" textLength="9.9" lengthAdjust="spacingAndGlyphs">E</text><text x="167" y="584.9" textLength="8.53" lengthAdjust="spacingAndGlyphs">c</text><text x="175.53" y="584.9" textLength="9.96" lengthAdjust="spacingAndGlyphs">o</text><text x="185.49" y="584.9" textLength="12.33" lengthAdjust="spacingAndGlyphs">O</text><text x="197.82" y="584.9" textLength="10.31" lengthAdjust="spacingAndGlyphs">1</text><text x="208.13" y="584.9" textLength="10.31" lengthAdjust="spacingAndGlyphs">0</text><text x="218.44" y="584.9" textLength="10.31" lengthAdjust="spacingAndGlyphs">9</text><path transform="translate(0,584.9)" d="M229.61,0H235.81V-1.65H233.96V-8.8H235.81V-10.45H229.61V-8.8H231.46V-1.65H229.61Z"/><text x="241.63" y="584.9" textLength="6.96" lengthAdjust="spacingAndGlyphs" font-weight="normal" stroke="none">-</text><text x="253.55" y="584.9" textLength="10.63" lengthAdjust="spacingAndGlyphs">P</text><text x="264.17" y="584.9" textLength="10.14" lengthAdjust="spacingAndGlyphs">p</text><text x="274.31" y="584.9" textLength="10.32" lengthAdjust="spacingAndGlyphs">u</text><text x="284.64" y="584.9" textLength="13.75" lengthAdjust="spacingAndGlyphs">M</text><path transform="translate(0,584.9)" d="M299.24,0H305.44V-1.65H303.59V-8.8H305.44V-10.45H299.24V-8.8H301.09V-1.65H299.24Z"/></g>
<g><text x="244.35" y="602.7" textLength="6.46" lengthAdjust="spacingAndGlyphs">(</text><text x="250.81" y="602.7" textLength="9.05" lengthAdjust="spacingAndGlyphs">1</text><text x="259.85" y="602.7" textLength="9.05" lengthAdjust="spacingAndGlyphs">5</text><text x="268.9" y="602.7" textLength="9.05" lengthAdjust="spacingAndGlyphs">4</text><text x="277.95" y="602.7" textLength="9.05" lengthAdjust="spacingAndGlyphs">8</text><text x="286.99" y="602.7" textLength="6.46" lengthAdjust="spacingAndGlyphs">)</text></g>
<g font-weight="bold" stroke="#000" stroke-width="0.3"><text x="302.1" y="602.7" textLength="10.67" lengthAdjust="spacingAndGlyphs">S</text><text x="312.77" y="602.7" textLength="6.85" lengthAdjust="spacingAndGlyphs">t</text><text x="319.62" y="602.7" textLength="9.78" lengthAdjust="spacingAndGlyphs">y</text><path transform="translate(0,602.7)" d="M330.4,0H336.6V-1.65H334.75V-8.8H336.6V-10.45H330.4V-8.8H332.25V-1.65H330.4Z"/></g>
<g font-weight="bold" stroke="#000" stroke-width="0.3"><text x="576" y="71.15" textLength="11.35" lengthAdjust="spacingAndGlyphs">A</text><text x="587.35" y="71.15" textLength="5" lengthAdjust="spacingAndGlyphs">l</text><text x="592.35" y="71.15" textLength="14.32" lengthAdjust="spacingAndGlyphs">w</text><text x="606.67" y="71.15" textLength="12.39" lengthAdjust="spacingAndGlyphs">N</text><path transform="translate(0,71.15)" d="M619.96,0H626.16V-1.65H624.31V-8.8H626.16V-10.45H619.96V-8.8H621.81V-1.65H619.96Z"/></g>
<g><text x="637.1" y="71.15" textLength="6.43" lengthAdjust="spacingAndGlyphs">(</text><text x="643.53" y="71.15" textLength="9.01" lengthAdjust="spacingAndGlyphs">2</text><text x="652.54" y="71.15" textLength="9.01" lengthAdjust="spacingAndGlyphs">8</text><text x="661.56" y="71.15" textLength="9.01" lengthAdjust="spacingAndGlyphs">5</text><text x="670.57" y="71.15" textLength="6.43" lengthAdjust="spacingAndGlyphs">)</text></g>
<g font-weight="bold" stroke="#000" stroke-width="0.3"><text x="612.75" y="112.9" textLength="11.09" lengthAdjust="spacingAndGlyphs">B</text><text x="623.84" y="112.9" textLength="8.63" lengthAdjust="spacingAndGlyphs">s</text><text x="632.47" y="112.9" textLength="9.66" lengthAdjust="spacingAndGlyphs">e</text><text x="642.13" y="112.9" textLength="10.72" lengthAdjust="spacingAndGlyphs">Y</text><path transform="translate(0,112.9)" d="M653.73,0H659.93V-1.65H658.08V-8.8H659.93V-10.45H653.73V-8.8H655.58V-1.65H653.73Z"/></g>
<g><text x="670.6" y="112.9" textLength="6.43" lengthAdjust="spacingAndGlyphs">(</text><text x="677.03" y="112.9" textLength="9.01" lengthAdjust="spacingAndGlyphs">3</text><text x="686.04" y="112.9" textLength="9.01" lengthAdjust="spacingAndGlyphs">9</text><text x="695.06" y="112.9" textLength="9.01" lengthAdjust="spacingAndGlyphs">0</text><text x="704.07" y="112.9" textLength="6.43" lengthAdjust="spacingAndGlyphs">)</text></g>
<g font-weight="bold" stroke="#000" stroke-width="0.3"><text x="626.5" y="130.8" textLength="10.82" lengthAdjust="spacingAndGlyphs">P</text><text x="637.32" y="130.8" textLength="8.75" lengthAdjust="spacingAndGlyphs">s</text><text x="646.08" y="130.8" textLength="10.32" lengthAdjust="spacingAndGlyphs">p</text><text x="656.39" y="130.8" textLength="9.6" lengthAdjust="spacingAndGlyphs">F</text><path transform="translate(0,130.8)" d="M666.92,0H673.12V-1.65H671.27V-8.8H673.12V-10.45H666.92V-8.8H668.77V-1.65H666.92Z"/></g>
<g><text x="683.85" y="130.8" textLength="6.43" lengthAdjust="spacingAndGlyphs">(</text><text x="690.28" y="130.8" textLength="9.01" lengthAdjust="spacingAndGlyphs">3</text><text x="699.29" y="130.8" textLength="9.01" lengthAdjust="spacingAndGlyphs">9</text><text x="708.31" y="130.8" textLength="9.01" lengthAdjust="spacingAndGlyphs">4</text><text x="717.32" y="130.8" textLength="6.43" lengthAdjust="spacingAndGlyphs">)</text></g>
<g font-weight="bold" stroke="#000" stroke-width="0.3"><text x="643.5" y="157.9" textLength="12.14" lengthAdjust="spacingAndGlyphs">H</text><text x="655.64" y="157.9" textLength="9.69" lengthAdjust="spacingAndGlyphs">a</text><text x="665.33" y="157.9" textLength="9.63" lengthAdjust="spacingAndGlyphs">e</text><path transform="translate(0,157.9)" d="M675.82,0H682.02V-1.65H680.17V-8.8H682.02V-10.45H675.82V-8.8H677.67V-1.65H675.82Z"/><path transform="translate(0,157.9)" d="M683.74,0H689.94V-1.65H688.09V-8.8H689.94V-10.45H683.74V-8.8H685.59V-1.65H683.74Z"/></g>
<g><text x="700.6" y="157.9" textLength="6.43" lengthAdjust="spacingAndGlyphs">(</text><text x="707.03" y="157.9" textLength="9.01" lengthAdjust="spacingAndGlyphs">4</text><text x="716.04" y="157.9" textLength="9.01" lengthAdjust="spacingAndGlyphs">5</text><text x="725.06" y="157.9" textLength="9.01" lengthAdjust="spacingAndGlyphs">4</text><text x="734.07" y="157.9" textLength="6.43" lengthAdjust="spacingAndGlyphs">)</text></g>
<g font-weight="bold" stroke="#000" stroke-width="0.3"><text x="660.25" y="191.65" textLength="12.28" lengthAdjust="spacingAndGlyphs">D</text><text x="672.53" y="191.65" textLength="7.35" lengthAdjust="spacingAndGlyphs">r</text><text x="679.88" y="191.65" textLength="10.34" lengthAdjust="spacingAndGlyphs">d</text><path transform="translate(0,191.65)" d="M691.16,0H697.36V-1.65H695.51V-8.8H697.36V-10.45H691.16V-8.8H693.01V-1.65H691.16Z"/></g>
<g><text x="708.1" y="191.65" textLength="6.43" lengthAdjust="spacingAndGlyphs">(</text><text x="714.53" y="191.65" textLength="9.01" lengthAdjust="spacingAndGlyphs">5</text><text x="723.54" y="191.65" textLength="9.01" lengthAdjust="spacingAndGlyphs">9</text><text x="732.56" y="191.65" textLength="9.01" lengthAdjust="spacingAndGlyphs">2</text><text x="741.57" y="191.65" textLength="6.43" lengthAdjust="spacingAndGlyphs">)</text></g>
<g font-weight="bold" stroke="#000" stroke-width="0.3"><text x="669.8" y="218.8" textLength="10.59" lengthAdjust="spacingAndGlyphs">P</text><text x="680.39" y="218.8" textLength="8.49" lengthAdjust="spacingAndGlyphs">c</text><text x="688.88" y="218.8" textLength="4.94" lengthAdjust="spacingAndGlyphs">i</text><path transform="translate(0,218.8)" d="M694.66,0H700.86V-1.65H699.01V-8.8H700.86V-10.45H694.66V-8.8H696.51V-1.65H694.66Z"/></g>
<g><text x="711.45" y="218.8" textLength="6.43" lengthAdjust="spacingAndGlyphs">(</text><text x="717.88" y="218.8" textLength="9.01" lengthAdjust="spacingAndGlyphs">6</text><text x="726.89" y="218.8" textLength="9.01" lengthAdjust="spacingAndGlyphs">9</text><text x="735.91" y="218.8" textLength="9.01" lengthAdjust="spacingAndGlyphs">4</text><text x="744.92" y="218.8" textLength="6.43" lengthAdjust="spacingAndGlyphs">)</text></g>
<g font-weight="bold" stroke="#000" stroke-width="0.3"><text x="674.5" y="236.4" textLength="12.27" lengthAdjust="spacingAndGlyphs">N</text><text x="686.77" y="236.4" textLength="8.59" lengthAdjust="spacingAndGlyphs">s</text><text x="695.36" y="236.4" textLength="10.13" lengthAdjust="spacingAndGlyphs">p</text><path transform="translate(0,236.4)" d="M706.34,0H712.54V-1.65H710.69V-8.8H712.54V-10.45H706.34V-8.8H708.19V-1.65H706.34Z"/></g>
<g><text x="723.15" y="236.4" textLength="6.43" lengthAdjust="spacingAndGlyphs">(</text><text x="729.58" y="236.4" textLength="9.01" lengthAdjust="spacingAndGlyphs">6</text><text x="738.59" y="236.4" textLength="9.01" lengthAdjust="spacingAndGlyphs">9</text><text x="747.61" y="236.4" textLength="9.01" lengthAdjust="spacingAndGlyphs">8</text><text x="756.62" y="236.4" textLength="6.43" lengthAdjust="spacingAndGlyphs">)</text></g>
<g font-weight="bold" stroke="#000" stroke-width="0.3"><text x="678.8" y="262.9" textLength="11.39" lengthAdjust="spacingAndGlyphs">X</text><text x="690.19" y="262.9" textLength="10.42" lengthAdjust="spacingAndGlyphs">b</text><text x="700.61" y="262.9" textLength="9.96" lengthAdjust="spacingAndGlyphs">a</text><path transform="translate(0,262.9)" d="M711.53,0H717.73V-1.65H715.88V-8.8H717.73V-10.45H711.53V-8.8H713.38V-1.65H711.53Z"/></g>
<g><text x="728.15" y="262.9" textLength="6.43" lengthAdjust="spacingAndGlyphs">(</text><text x="734.58" y="262.9" textLength="9.01" lengthAdjust="spacingAndGlyphs">8</text><text x="743.59" y="262.9" textLength="9.01" lengthAdjust="spacingAndGlyphs">1</text><text x="752.61" y="262.9" textLength="9.01" lengthAdjust="spacingAndGlyphs">5</text><text x="761.62" y="262.9" textLength="6.43" lengthAdjust="spacingAndGlyphs">)</text></g>
<g font-weight="bold" stroke="#000" stroke-width="0.3"><text x="667" y="390.4" textLength="12.31" lengthAdjust="spacingAndGlyphs">N</text><text x="679.31" y="390.4" textLength="10.16" lengthAdjust="spacingAndGlyphs">d</text><text x="689.47" y="390.4" textLength="9.65" lengthAdjust="spacingAndGlyphs">e</text><path transform="translate(0,390.4)" d="M699.98,0H706.18V-1.65H704.33V-8.8H706.18V-10.45H699.98V-8.8H701.83V-1.65H699.98Z"/></g>
<g><text x="716.85" y="390.4" textLength="6.43" lengthAdjust="spacingAndGlyphs">(</text><text x="723.28" y="390.4" textLength="9.01" lengthAdjust="spacingAndGlyphs">9</text><text x="732.29" y="390.4" textLength="9.01" lengthAdjust="spacingAndGlyphs">2</text><text x="741.31" y="390.4" textLength="9.01" lengthAdjust="spacingAndGlyphs">1</text><text x="750.32" y="390.4" textLength="6.43" lengthAdjust="spacingAndGlyphs">)</text></g>
<g font-weight="bold" stroke="#000" stroke-width="0.3"><text x="657.25" y="416.65" textLength="11.49" lengthAdjust="spacingAndGlyphs">R</text><text x="668.74" y="416.65" textLength="8.71" lengthAdjust="spacingAndGlyphs">s</text><text x="677.45" y="416.65" textLength="7.3" lengthAdjust="spacingAndGlyphs">r</text><path transform="translate(0,416.65)" d="M685.67,0H691.87V-1.65H690.02V-8.8H691.87V-10.45H685.67V-8.8H687.52V-1.65H685.67Z"/><path transform="translate(0,416.65)" d="M693.69,0H699.89V-1.65H698.04V-8.8H699.89V-10.45H693.69V-8.8H695.54V-1.65H693.69Z"/></g>
<g><text x="710.1" y="416.65" textLength="6.46" lengthAdjust="spacingAndGlyphs">(</text><text x="716.56" y="416.65" textLength="9.05" lengthAdjust="spacingAndGlyphs">1</text><text x="725.6" y="416.65" textLength="9.05" lengthAdjust="spacingAndGlyphs">0</text><text x="734.65" y="416.65" textLength="9.05" lengthAdjust="spacingAndGlyphs">0</text><text x="743.7" y="416.65" textLength="9.05" lengthAdjust="spacingAndGlyphs">9</text><text x="752.74" y="416.65" textLength="6.46" lengthAdjust="spacingAndGlyphs">)</text></g>
<g font-weight="bold" stroke="#000" stroke-width="0.3"><text x="645.25" y="443.4" textLength="12.23" lengthAdjust="spacingAndGlyphs">H</text><text x="657.48" y="443.4" textLength="5" lengthAdjust="spacingAndGlyphs">i</text><text x="662.48" y="443.4" textLength="10.41" lengthAdjust="spacingAndGlyphs">n</text><text x="672.89" y="443.4" textLength="10.22" lengthAdjust="spacingAndGlyphs">d</text><path transform="translate(0,443.4)" d="M684,0H690.2V-1.65H688.35V-8.8H690.2V-10.45H684V-8.8H685.85V-1.65H684Z"/><path transform="translate(0,443.4)" d="M691.98,0H698.18V-1.65H696.33V-8.8H698.18V-10.45H691.98V-8.8H693.83V-1.65H691.98Z"/><path transform="translate(0,443.4)" d="M699.96,0H706.16V-1.65H704.31V-8.8H706.16V-10.45H699.96V-8.8H701.81V-1.65H699.96Z"/></g>
<g><text x="716.85" y="443.4" textLength="6.46" lengthAdjust="spacingAndGlyphs">(</text><text x="723.31" y="443.4" textLength="9.05" lengthAdjust="spacingAndGlyphs">1</text><text x="732.35" y="443.4" textLength="9.05" lengthAdjust="spacingAndGlyphs">0</text><text x="741.4" y="443.4" textLength="9.05" lengthAdjust="spacingAndGlyphs">7</text><text x="750.45" y="443.4" textLength="9.05" lengthAdjust="spacingAndGlyphs">9</text><text x="759.49" y="443.4" textLength="6.46" lengthAdjust="spacingAndGlyphs">)</text></g>
<g font-weight="bold" stroke="#000" stroke-width="0.3"><text x="634.75" y="461.15" textLength="11.12" lengthAdjust="spacingAndGlyphs">B</text><text x="645.87" y="461.15" textLength="8.65" lengthAdjust="spacingAndGlyphs">s</text><text x="654.53" y="461.15" textLength="6.66" lengthAdjust="spacingAndGlyphs">t</text><text x="661.18" y="461.15" textLength="11.15" lengthAdjust="spacingAndGlyphs">X</text><path transform="translate(0,461.15)" d="M673.22,0H679.42V-1.65H677.57V-8.8H679.42V-10.45H673.22V-8.8H675.07V-1.65H673.22Z"/></g>
<g><text x="690.1" y="461.15" textLength="6.46" lengthAdjust="spacingAndGlyphs">(</text><text x="696.56" y="461.15" textLength="9.05" lengthAdjust="spacingAndGlyphs">1</text><text x="705.6" y="461.15" textLength="9.05" lengthAdjust="spacingAndGlyphs">0</text><text x="714.65" y="461.15" textLength="9.05" lengthAdjust="spacingAndGlyphs">9</text><text x="723.7" y="461.15" textLength="9.05" lengthAdjust="spacingAndGlyphs">2</text><text x="732.74" y="461.15" textLength="6.46" lengthAdjust="spacingAndGlyphs">)</text></g>
<g font-weight="bold" stroke="#000" stroke-width="0.3"><text x="624" y="479" textLength="11.33" lengthAdjust="spacingAndGlyphs">A</text><text x="635.33" y="479" textLength="9.75" lengthAdjust="spacingAndGlyphs">a</text><text x="645.08" y="479" textLength="7.25" lengthAdjust="spacingAndGlyphs">r</text><path transform="translate(0,479)" d="M653.22,0H659.42V-1.65H657.57V-8.8H659.42V-10.45H653.22V-8.8H655.07V-1.65H653.22Z"/></g>
<g><text x="669.6" y="479" textLength="6.46" lengthAdjust="spacingAndGlyphs">(</text><text x="676.06" y="479" textLength="9.05" lengthAdjust="spacingAndGlyphs">1</text><text x="685.1" y="479" textLength="9.05" lengthAdjust="spacingAndGlyphs">1</text><text x="694.15" y="479" textLength="9.05" lengthAdjust="spacingAndGlyphs">2</text><text x="703.2" y="479" textLength="9.05" lengthAdjust="spacingAndGlyphs">0</text><text x="712.24" y="479" textLength="6.46" lengthAdjust="spacingAndGlyphs">)</text></g>
<g font-weight="bold" stroke="#000" stroke-width="0.3"><text x="611" y="496.7" textLength="9.95" lengthAdjust="spacingAndGlyphs">E</text><text x="620.95" y="496.7" textLength="8.57" lengthAdjust="spacingAndGlyphs">c</text><text x="629.52" y="496.7" textLength="10.01" lengthAdjust="spacingAndGlyphs">o</text><text x="639.53" y="496.7" textLength="11.39" lengthAdjust="spacingAndGlyphs">R</text><text x="650.92" y="496.7" textLength="11.13" lengthAdjust="spacingAndGlyphs">V</text></g>
<g><text x="671.85" y="496.7" textLength="6.46" lengthAdjust="spacingAndGlyphs">(</text><text x="678.31" y="496.7" textLength="9.05" lengthAdjust="spacingAndGlyphs">1</text><text x="687.35" y="496.7" textLength="9.05" lengthAdjust="spacingAndGlyphs">1</text><text x="696.4" y="496.7" textLength="9.05" lengthAdjust="spacingAndGlyphs">4</text><text x="705.45" y="496.7" textLength="9.05" lengthAdjust="spacingAndGlyphs">5</text><text x="714.49" y="496.7" textLength="6.46" lengthAdjust="spacingAndGlyphs">)</text></g>
<g font-weight="bold" stroke="#000" stroke-width="0.3"><text x="589.2" y="523.8" textLength="11.04" lengthAdjust="spacingAndGlyphs">B</text><text x="600.24" y="523.8" textLength="6.61" lengthAdjust="spacingAndGlyphs">t</text><text x="606.84" y="523.8" textLength="10.12" lengthAdjust="spacingAndGlyphs">g</text><text x="616.97" y="523.8" textLength="10.02" lengthAdjust="spacingAndGlyphs">Z</text><path transform="translate(0,523.8)" d="M627.85,0H634.05V-1.65H632.2V-8.8H634.05V-10.45H627.85V-8.8H629.7V-1.65H627.85Z"/></g>
<g><text x="644.85" y="523.8" textLength="6.46" lengthAdjust="spacingAndGlyphs">(</text><text x="651.31" y="523.8" textLength="9.05" lengthAdjust="spacingAndGlyphs">1</text><text x="660.35" y="523.8" textLength="9.05" lengthAdjust="spacingAndGlyphs">1</text><text x="669.4" y="523.8" textLength="9.05" lengthAdjust="spacingAndGlyphs">9</text><text x="678.45" y="523.8" textLength="9.05" lengthAdjust="spacingAndGlyphs">9</text><text x="687.49" y="523.8" textLength="6.46" lengthAdjust="spacingAndGlyphs">)</text></g>
<g font-weight="bold" stroke="#000" stroke-width="0.3"><text x="571.5" y="541.6" textLength="10.49" lengthAdjust="spacingAndGlyphs">S</text><text x="581.99" y="541.6" textLength="10.52" lengthAdjust="spacingAndGlyphs">n</text><text x="592.51" y="541.6" textLength="9.87" lengthAdjust="spacingAndGlyphs">a</text><text x="602.38" y="541.6" textLength="11.26" lengthAdjust="spacingAndGlyphs">B</text><path transform="translate(0,541.6)" d="M614.57,0H620.77V-1.65H618.92V-8.8H620.77V-10.45H614.57V-8.8H616.42V-1.65H614.57Z"/></g>
<g><text x="631.05" y="541.6" textLength="6.46" lengthAdjust="spacingAndGlyphs">(</text><text x="637.51" y="541.6" textLength="9.05" lengthAdjust="spacingAndGlyphs">1</text><text x="646.55" y="541.6" textLength="9.05" lengthAdjust="spacingAndGlyphs">2</text><text x="655.6" y="541.6" textLength="9.05" lengthAdjust="spacingAndGlyphs">3</text><text x="664.65" y="541.6" textLength="9.05" lengthAdjust="spacingAndGlyphs">9</text><text x="673.69" y="541.6" textLength="6.46" lengthAdjust="spacingAndGlyphs">)</text></g>
<g font-weight="bold" stroke="#000" stroke-width="0.3"><text x="552.4" y="559.4" textLength="13.8" lengthAdjust="spacingAndGlyphs">M</text><text x="566.2" y="559.4" textLength="4.98" lengthAdjust="spacingAndGlyphs">l</text><text x="571.18" y="559.4" textLength="10.37" lengthAdjust="spacingAndGlyphs">u</text><path transform="translate(0,559.4)" d="M582.42,0H588.62V-1.65H586.77V-8.8H588.62V-10.45H582.42V-8.8H584.27V-1.65H582.42Z"/></g>
<g><text x="598.85" y="559.4" textLength="6.46" lengthAdjust="spacingAndGlyphs">(</text><text x="605.31" y="559.4" textLength="9.05" lengthAdjust="spacingAndGlyphs">1</text><text x="614.35" y="559.4" textLength="9.05" lengthAdjust="spacingAndGlyphs">2</text><text x="623.4" y="559.4" textLength="9.05" lengthAdjust="spacingAndGlyphs">4</text><text x="632.45" y="559.4" textLength="9.05" lengthAdjust="spacingAndGlyphs">7</text><text x="641.49" y="559.4" textLength="6.46" lengthAdjust="spacingAndGlyphs">)</text></g>
<g font-weight="bold" stroke="#000" stroke-width="0.3"><text x="528.8" y="577" textLength="12.21" lengthAdjust="spacingAndGlyphs">H</text><text x="541.01" y="577" textLength="4.99" lengthAdjust="spacingAndGlyphs">i</text><text x="546" y="577" textLength="10.39" lengthAdjust="spacingAndGlyphs">n</text><text x="556.39" y="577" textLength="8.58" lengthAdjust="spacingAndGlyphs">c</text><path transform="translate(0,577)" d="M565.85,0H572.05V-1.65H570.2V-8.8H572.05V-10.45H565.85V-8.8H567.7V-1.65H565.85Z"/><path transform="translate(0,577)" d="M573.82,0H580.02V-1.65H578.17V-8.8H580.02V-10.45H573.82V-8.8H575.67V-1.65H573.82Z"/><text x="585.89" y="577" textLength="7" lengthAdjust="spacingAndGlyphs" font-weight="normal" stroke="none">-</text><text x="597.88" y="577" textLength="12.21" lengthAdjust="spacingAndGlyphs">H</text><text x="610.09" y="577" textLength="10.2" lengthAdjust="spacingAndGlyphs">p</text><text x="620.29" y="577" textLength="9.75" lengthAdjust="spacingAndGlyphs">a</text><path transform="translate(0,577)" d="M630.92,0H637.12V-1.65H635.27V-8.8H637.12V-10.45H630.92V-8.8H632.77V-1.65H630.92Z"/></g>
<g><text x="647.35" y="577" textLength="6.46" lengthAdjust="spacingAndGlyphs">(</text><text x="653.81" y="577" textLength="9.05" lengthAdjust="spacingAndGlyphs">1</text><text x="662.85" y="577" textLength="9.05" lengthAdjust="spacingAndGlyphs">2</text><text x="671.9" y="577" textLength="9.05" lengthAdjust="spacingAndGlyphs">8</text><text x="680.95" y="577" textLength="9.05" lengthAdjust="spacingAndGlyphs">5</text><text x="689.99" y="577" textLength="6.46" lengthAdjust="spacingAndGlyphs">)</text></g>
<g font-weight="bold" stroke="#000" stroke-width="0.3"><text x="501.2" y="595" textLength="9.92" lengthAdjust="spacingAndGlyphs">E</text><text x="511.12" y="595" textLength="8.54" lengthAdjust="spacingAndGlyphs">c</text><text x="519.67" y="595" textLength="9.98" lengthAdjust="spacingAndGlyphs">o</text><text x="529.65" y="595" textLength="10.33" lengthAdjust="spacingAndGlyphs">5</text><text x="539.98" y="595" textLength="10.33" lengthAdjust="spacingAndGlyphs">3</text><text x="550.32" y="595" textLength="9.75" lengthAdjust="spacingAndGlyphs">k</text><path transform="translate(0,595)" d="M560.93,0H567.13V-1.65H565.28V-8.8H567.13V-10.45H560.93V-8.8H562.78V-1.65H560.93Z"/></g>
<g><text x="577.75" y="595" textLength="6.46" lengthAdjust="spacingAndGlyphs">(</text><text x="584.21" y="595" textLength="9.05" lengthAdjust="spacingAndGlyphs">1</text><text x="593.25" y="595" textLength="9.05" lengthAdjust="spacingAndGlyphs">2</text><text x="602.3" y="595" textLength="9.05" lengthAdjust="spacingAndGlyphs">9</text><text x="611.35" y="595" textLength="9.05" lengthAdjust="spacingAndGlyphs">7</text><text x="620.39" y="595" textLength="6.46" lengthAdjust="spacingAndGlyphs">)</text></g>
<g font-weight="bold" stroke="#000" stroke-width="0.3"><text x="466" y="612.7" textLength="11.08" lengthAdjust="spacingAndGlyphs">B</text><text x="477.08" y="612.7" textLength="9.72" lengthAdjust="spacingAndGlyphs">a</text><text x="486.8" y="612.7" textLength="10.36" lengthAdjust="spacingAndGlyphs">n</text><path transform="translate(0,612.7)" d="M498.02,0H504.22V-1.65H502.37V-8.8H504.22V-10.45H498.02V-8.8H499.87V-1.65H498.02Z"/><path transform="translate(0,612.7)" d="M505.97,0H512.17V-1.65H510.32V-8.8H512.17V-10.45H505.97V-8.8H507.82V-1.65H505.97Z"/><text x="518.01" y="612.7" textLength="6.98" lengthAdjust="spacingAndGlyphs" font-weight="normal" stroke="none">-</text><text x="529.97" y="612.7" textLength="10.33" lengthAdjust="spacingAndGlyphs">S</text><text x="540.29" y="612.7" textLength="9.72" lengthAdjust="spacingAndGlyphs">a</text><text x="550.01" y="612.7" textLength="8.55" lengthAdjust="spacingAndGlyphs">c</text><path transform="translate(0,612.7)" d="M559.43,0H565.63V-1.65H563.78V-8.8H565.63V-10.45H559.43V-8.8H561.28V-1.65H559.43Z"/></g>
<g><text x="576.25" y="612.7" textLength="6.46" lengthAdjust="spacingAndGlyphs">(</text><text x="582.71" y="612.7" textLength="9.05" lengthAdjust="spacingAndGlyphs">1</text><text x="591.75" y="612.7" textLength="9.05" lengthAdjust="spacingAndGlyphs">2</text><text x="600.8" y="612.7" textLength="9.05" lengthAdjust="spacingAndGlyphs">9</text><text x="609.85" y="612.7" textLength="9.05" lengthAdjust="spacingAndGlyphs">9</text><text x="618.89" y="612.7" textLength="6.46" lengthAdjust="spacingAndGlyphs">)</text></g>
<g fill="#a22ff3"><text x="-0.65" y="442.9" textLength="6.3" lengthAdjust="spacingAndGlyphs">(</text><text x="5.65" y="442.9" textLength="8.82" lengthAdjust="spacingAndGlyphs">1</text><text x="14.47" y="442.9" textLength="8.82" lengthAdjust="spacingAndGlyphs">6</text><text x="23.3" y="442.9" textLength="8.82" lengthAdjust="spacingAndGlyphs">8</text><text x="32.12" y="442.9" textLength="8.82" lengthAdjust="spacingAndGlyphs">7</text><text x="45.83" y="442.9" textLength="5.05" lengthAdjust="spacingAndGlyphs">.</text><text x="50.88" y="442.9" textLength="5.05" lengthAdjust="spacingAndGlyphs">.</text><text x="60.81" y="442.9" textLength="8.82" lengthAdjust="spacingAndGlyphs">1</text><text x="69.63" y="442.9" textLength="8.82" lengthAdjust="spacingAndGlyphs">7</text><text x="78.45" y="442.9" textLength="8.82" lengthAdjust="spacingAndGlyphs">1</text><text x="87.28" y="442.9" textLength="8.82" lengthAdjust="spacingAndGlyphs">1</text><text x="96.1" y="442.9" textLength="6.3" lengthAdjust="spacingAndGlyphs">)</text></g>
<g fill="#a22ff3"><text x="112.3" y="442.9" textLength="7.43" lengthAdjust="spacingAndGlyphs">s</text><text x="119.73" y="442.9" textLength="8.5" lengthAdjust="spacingAndGlyphs">e</text><text x="128.24" y="442.9" textLength="8.89" lengthAdjust="spacingAndGlyphs">q</text><text x="137.13" y="442.9" textLength="9.08" lengthAdjust="spacingAndGlyphs">_</text><text x="146.2" y="442.9" textLength="9.92" lengthAdjust="spacingAndGlyphs">R</text><text x="156.12" y="442.9" textLength="9.02" lengthAdjust="spacingAndGlyphs">E</text><text x="165.14" y="442.9" textLength="9.76" lengthAdjust="spacingAndGlyphs">V</text></g>
<g fill="#a22ff3"><text x="679.1" y="336.6" textLength="7.49" lengthAdjust="spacingAndGlyphs">s</text><text x="686.59" y="336.6" textLength="8.57" lengthAdjust="spacingAndGlyphs">e</text><text x="695.16" y="336.6" textLength="8.96" lengthAdjust="spacingAndGlyphs">q</text><text x="704.12" y="336.6" textLength="9.15" lengthAdjust="spacingAndGlyphs">_</text><text x="713.27" y="336.6" textLength="8.27" lengthAdjust="spacingAndGlyphs">F</text><text x="721.54" y="336.6" textLength="14.22" lengthAdjust="spacingAndGlyphs">W</text><text x="735.76" y="336.6" textLength="11.09" lengthAdjust="spacingAndGlyphs">D</text></g>
<g fill="#a22ff3"><text x="759.75" y="336.6" textLength="6.31" lengthAdjust="spacingAndGlyphs">(</text><text x="766.06" y="336.6" textLength="8.84" lengthAdjust="spacingAndGlyphs">8</text><text x="774.91" y="336.6" textLength="8.84" lengthAdjust="spacingAndGlyphs">8</text><text x="783.75" y="336.6" textLength="8.84" lengthAdjust="spacingAndGlyphs">5</text><text x="797.49" y="336.6" textLength="5.06" lengthAdjust="spacingAndGlyphs">.</text><text x="802.55" y="336.6" textLength="5.06" lengthAdjust="spacingAndGlyphs">.</text><text x="812.51" y="336.6" textLength="8.84" lengthAdjust="spacingAndGlyphs">9</text><text x="821.35" y="336.6" textLength="8.84" lengthAdjust="spacingAndGlyphs">2</text><text x="830.19" y="336.6" textLength="8.84" lengthAdjust="spacingAndGlyphs">5</text><text x="839.04" y="336.6" textLength="6.31" lengthAdjust="spacingAndGlyphs">)</text></g>
<rect x="104.5" y="358.2" width="48" height="16.8" rx="2.8" ry="2.8" fill="#b2e6d2" stroke="#86b3a2" stroke-width="0.9"/>
<g><text x="106.85" y="372.4" textLength="10.36" lengthAdjust="spacingAndGlyphs">A</text><text x="117.21" y="372.4" textLength="14.73" lengthAdjust="spacingAndGlyphs">m</text><text x="131.94" y="372.4" textLength="9.43" lengthAdjust="spacingAndGlyphs">p</text><text x="141.38" y="372.4" textLength="10.52" lengthAdjust="spacingAndGlyphs">R</text></g>
<rect x="679.3" y="275.4" width="131.9" height="17.1" rx="2.8" ry="2.8" fill="#c8cad5" stroke="#a2a4ae" stroke-width="0.9"/>
<g><text x="681.9" y="289.8" textLength="3.95" lengthAdjust="spacingAndGlyphs">l</text><text x="685.85" y="289.8" textLength="8.67" lengthAdjust="spacingAndGlyphs">a</text><text x="694.52" y="289.8" textLength="7.52" lengthAdjust="spacingAndGlyphs">c</text><text x="707.12" y="289.8" textLength="10.56" lengthAdjust="spacingAndGlyphs">U</text><text x="717.68" y="289.8" textLength="9.87" lengthAdjust="spacingAndGlyphs">V</text><text x="727.55" y="289.8" textLength="9.18" lengthAdjust="spacingAndGlyphs">5</text><text x="741.8" y="289.8" textLength="8.99" lengthAdjust="spacingAndGlyphs">p</text><text x="750.79" y="289.8" textLength="6.16" lengthAdjust="spacingAndGlyphs">r</text><text x="756.95" y="289.8" textLength="8.76" lengthAdjust="spacingAndGlyphs">o</text><text x="765.71" y="289.8" textLength="14.04" lengthAdjust="spacingAndGlyphs">m</text><text x="779.75" y="289.8" textLength="8.76" lengthAdjust="spacingAndGlyphs">o</text><text x="788.51" y="289.8" textLength="5.68" lengthAdjust="spacingAndGlyphs">t</text><text x="794.19" y="289.8" textLength="8.6" lengthAdjust="spacingAndGlyphs">e</text><text x="802.79" y="289.8" textLength="6.16" lengthAdjust="spacingAndGlyphs">r</text></g>
<rect x="679.3" y="296.6" width="131.9" height="16.7" rx="2.8" ry="2.8" fill="#c8cad5" stroke="#a2a4ae" stroke-width="0.9"/>
<g><text x="681.9" y="310.9" textLength="3.95" lengthAdjust="spacingAndGlyphs">l</text><text x="685.85" y="310.9" textLength="8.67" lengthAdjust="spacingAndGlyphs">a</text><text x="694.52" y="310.9" textLength="7.52" lengthAdjust="spacingAndGlyphs">c</text><text x="707.12" y="310.9" textLength="10.56" lengthAdjust="spacingAndGlyphs">U</text><text x="717.68" y="310.9" textLength="9.87" lengthAdjust="spacingAndGlyphs">V</text><text x="727.55" y="310.9" textLength="9.18" lengthAdjust="spacingAndGlyphs">5</text><text x="741.8" y="310.9" textLength="8.99" lengthAdjust="spacingAndGlyphs">p</text><text x="750.79" y="310.9" textLength="6.16" lengthAdjust="spacingAndGlyphs">r</text><text x="756.95" y="310.9" textLength="8.76" lengthAdjust="spacingAndGlyphs">o</text><text x="765.71" y="310.9" textLength="14.04" lengthAdjust="spacingAndGlyphs">m</text><text x="779.75" y="310.9" textLength="8.76" lengthAdjust="spacingAndGlyphs">o</text><text x="788.51" y="310.9" textLength="5.68" lengthAdjust="spacingAndGlyphs">t</text><text x="794.19" y="310.9" textLength="8.6" lengthAdjust="spacingAndGlyphs">e</text><text x="802.79" y="310.9" textLength="6.16" lengthAdjust="spacingAndGlyphs">r</text></g>
<rect x="671.75" y="350.1" width="34" height="16.8" rx="2.8" ry="2.8" fill="#b6c2e4" stroke="#96a0c0" stroke-width="0.9"/>
<g><text x="673.85" y="363.65" textLength="10.62" lengthAdjust="spacingAndGlyphs">R</text><text x="684.47" y="363.65" textLength="10.48" lengthAdjust="spacingAndGlyphs">B</text><text x="694.95" y="363.65" textLength="10.45" lengthAdjust="spacingAndGlyphs">S</text></g>
<g font-weight="bold" stroke="#000" stroke-width="0.3" font-size="16.8"><text x="269.2" y="657.8" textLength="17.9" lengthAdjust="spacingAndGlyphs">m</text><text x="287.1" y="657.8" textLength="11.62" lengthAdjust="spacingAndGlyphs">o</text><text x="298.72" y="657.8" textLength="11.32" lengthAdjust="spacingAndGlyphs">x</text><text x="310.03" y="657.8" textLength="11.82" lengthAdjust="spacingAndGlyphs">b</text><text x="321.86" y="657.8" textLength="7.14" lengthAdjust="spacingAndGlyphs">f</text><text x="329" y="657.8" textLength="11.82" lengthAdjust="spacingAndGlyphs">p</text><text x="340.82" y="657.8" textLength="12.03" lengthAdjust="spacingAndGlyphs">_</text><text x="352.85" y="657.8" textLength="11.82" lengthAdjust="spacingAndGlyphs">p</text><text x="364.67" y="657.8" textLength="5.79" lengthAdjust="spacingAndGlyphs">l</text><text x="370.46" y="657.8" textLength="11.3" lengthAdjust="spacingAndGlyphs">a</text><text x="381.76" y="657.8" textLength="10.03" lengthAdjust="spacingAndGlyphs">s</text><text x="391.79" y="657.8" textLength="17.9" lengthAdjust="spacingAndGlyphs">m</text><text x="409.69" y="657.8" textLength="5.79" lengthAdjust="spacingAndGlyphs">i</text><text x="415.47" y="657.8" textLength="11.82" lengthAdjust="spacingAndGlyphs">d</text><text x="427.29" y="657.8" textLength="12.03" lengthAdjust="spacingAndGlyphs">_</text><text x="439.32" y="657.8" textLength="11.3" lengthAdjust="spacingAndGlyphs">a</text><text x="450.62" y="657.8" textLength="11.82" lengthAdjust="spacingAndGlyphs">d</text><text x="462.45" y="657.8" textLength="11.82" lengthAdjust="spacingAndGlyphs">d</text><text x="474.27" y="657.8" textLength="11.82" lengthAdjust="spacingAndGlyphs">g</text><text x="486.09" y="657.8" textLength="11.23" lengthAdjust="spacingAndGlyphs">e</text><text x="497.33" y="657.8" textLength="12.04" lengthAdjust="spacingAndGlyphs">n</text><text x="509.37" y="657.8" textLength="11.23" lengthAdjust="spacingAndGlyphs">e</text><text x="520.6" y="657.8" textLength="12.03" lengthAdjust="spacingAndGlyphs">_</text><text x="532.63" y="657.8" textLength="9.95" lengthAdjust="spacingAndGlyphs">c</text><text x="542.58" y="657.8" textLength="11.82" lengthAdjust="spacingAndGlyphs">p</text></g>
<g><text x="382.05" y="673.5" textLength="9.12" lengthAdjust="spacingAndGlyphs">2</text><text x="391.17" y="673.5" textLength="9.12" lengthAdjust="spacingAndGlyphs">8</text><text x="400.29" y="673.5" textLength="9.12" lengthAdjust="spacingAndGlyphs">0</text><text x="409.41" y="673.5" textLength="9.12" lengthAdjust="spacingAndGlyphs">8</text><text x="423.58" y="673.5" textLength="8.93" lengthAdjust="spacingAndGlyphs">b</text><text x="432.52" y="673.5" textLength="8.93" lengthAdjust="spacingAndGlyphs">p</text></g>
<path d="M713.9,0 L717.7,0 L713.6,10.4 L710.9,10.4 Z M717,3.5 L721.4,5.5 L718.7,9 L716.6,6.9 Z" fill="#c0e2f2"/>
<text x="727.4" y="8.9" font-size="10.9" fill="#c8c8c8" textLength="116" lengthAdjust="spacingAndGlyphs">Created with <tspan fill="#efb9b9">Snap</tspan>Gene</text><text x="843.2" y="6.2" font-size="7" fill="#c8c8c8">®</text>
</svg>
</body></html>
